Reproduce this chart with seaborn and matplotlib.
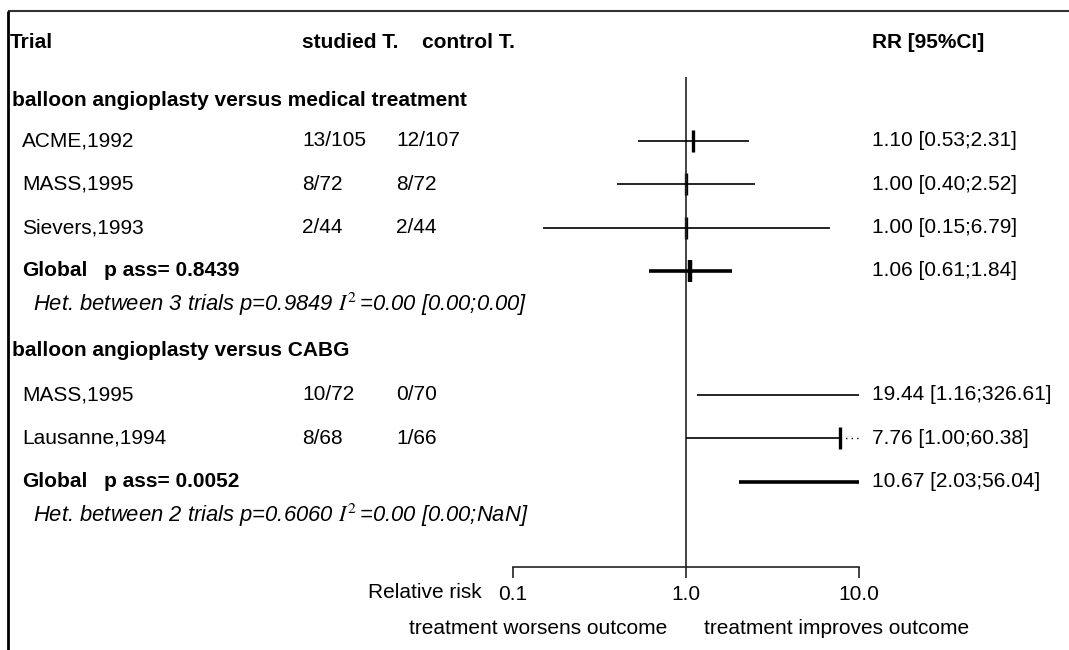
import numpy as np
import pandas as pd
import matplotlib
matplotlib.use("Agg")
import matplotlib.pyplot as plt
import seaborn as sns

# ---- data -------------------------------------------------------------
groups = ["balloon angioplasty versus medical treatment",
          "balloon angioplasty versus CABG"]
trial_group = [0, 0, 0, 1, 1]
trials = ["ACME,1992", "MASS,1995", "Sievers,1993", "MASS,1995", "Lausanne,1994"]
studied = ["13/105", "8/72", "2/44", "10/72", "8/68"]
control = ["12/107", "8/72", "2/44", "0/70", "1/66"]
rr = [1.10, 1.00, 1.00, 19.44, 7.76]
rr_lo = [0.53, 0.40, 0.15, 1.16, 1.00]
rr_hi = [2.31, 2.52, 6.79, 326.61, 60.38]

global_rr = [1.06, 10.67]
global_lo = [0.61, 2.03]
global_hi = [1.84, 56.04]
p_assoc = ["0.8439", "0.0052"]
het_n = [3, 2]
het_p = ["0.9849", "0.6060"]
het_i2 = ["0.00 [0.00;0.00]", "0.00 [0.00;NaN]"]

x_ticks = [0.1, 1.0, 10.0]
x_ticklabels = ["0.1", "1.0", "10.0"]

# ---- style ------------------------------------------------------------
sns.set_theme(style="white")
plt.rcParams["font.family"] = ["Liberation Sans", "DejaVu Sans"]
plt.rcParams["mathtext.fontset"] = "stix"
plt.rcParams["text.color"] = "black"
plt.rcParams["xtick.color"] = "black"
plt.rcParams["axes.labelcolor"] = "black"
FS = 15

W, H = 1069, 650
fig = plt.figure(figsize=(W / 100, H / 100), dpi=100)

# background axes in pixel coordinates for the text table
tax = fig.add_axes([0, 0, 1, 1])
tax.set_xlim(0, W)
tax.set_ylim(H, 0)
tax.axis("off")

# forest axes: log scale, 0.1 .. 10
X0, X1, AXIS_Y = 513, 859, 567
fax = fig.add_axes([X0 / W, (H - AXIS_Y) / H, (X1 - X0) / W, AXIS_Y / H])
fax.set_xscale("log")
fax.patch.set_alpha(0)
for s in ["top", "left", "right"]:
    fax.spines[s].set_visible(False)
fax.spines["bottom"].set_color("#222222")
fax.spines["bottom"].set_linewidth(1.2)

# ---- row layout -------------------------------------------------------
HEADER_Y = 43
STEP = 43.3
rows_y = {}
section_y, global_y, het_y = [], [], []
cursor = 97
for g in range(len(groups)):
    section_y.append(cursor + (3 if g == 0 else 0))
    cursor += 44
    for i, tg in enumerate(trial_group):
        if tg == g:
            rows_y[i] = cursor
            cursor += STEP
    global_y.append(cursor)
    cursor += 34
    het_y.append(cursor)
    cursor += 46

df = pd.DataFrame({"trial": trials, "rr": rr, "lo": rr_lo, "hi": rr_hi,
                   "y": [rows_y[i] for i in range(len(trials))]})
gdf = pd.DataFrame({"rr": global_rr, "lo": global_lo, "hi": global_hi,
                    "y": global_y})

# ---- header -----------------------------------------------------------
bold = dict(fontsize=FS, fontweight="bold", va="center")
tax.text(10, HEADER_Y, "Trial", **bold)
tax.text(302, HEADER_Y, "studied T.", **bold)
tax.text(422, HEADER_Y, "control T.", **bold)
tax.text(872, HEADER_Y, "RR [95%CI]", **bold)

# ---- table text -------------------------------------------------------
norm = dict(fontsize=FS, va="center")
for g, name in enumerate(groups):
    tax.text(12, section_y[g], name, **bold)
    tax.text(22, global_y[g], "Global", **bold)
    tax.text(104, global_y[g], f"p ass= {p_assoc[g]}", **bold)
    tax.text(33, het_y[g],
             f"Het. between {het_n[g]} trials p={het_p[g]} $I^{{2}}\\,$={het_i2[g]}",
             fontsize=15.8, style="italic", va="center")
    tax.text(872, global_y[g],
             f"{global_rr[g]:.2f} [{global_lo[g]:.2f};{global_hi[g]:.2f}]", **norm)

for i, row in df.iterrows():
    tax.text(22, row.y, trials[i], **norm)
    tax.text(302, row.y, studied[i], **norm)
    tax.text(396, row.y, control[i], **norm)
    tax.text(872, row.y, f"{row.rr:.2f} [{row.lo:.2f};{row.hi:.2f}]", **norm)

# ---- forest marks -----------------------------------------------------
XMAX = 10
fax.vlines(1.0, 77, AXIS_Y, color="#222222", lw=1.2)

for _, row in df.iterrows():
    dotted_tail = row.hi > XMAX and row.rr < XMAX
    end = row.rr if dotted_tail else row.hi
    fax.hlines(row.y, row.lo, end, color="black", lw=1.2)
    if dotted_tail:
        fax.hlines(row.y, row.rr, row.hi, color="black", lw=1.0,
                   linestyles=(0, (1, 3)))
fax.hlines(gdf.y, gdf.lo, gdf.hi, color="black", lw=2.6)

sns.scatterplot(data=df, x="rr", y="y", marker="|", s=260, linewidth=2.4,
                color="black", ax=fax, legend=False, clip_on=True)
sns.scatterplot(data=gdf, x="rr", y="y", marker="|", s=260, linewidth=3.2,
                color="black", ax=fax, legend=False, clip_on=True)

fax.set_xlabel("")
fax.set_ylabel("")
fax.set_yticks([])
fax.set_xlim(0.1, XMAX)
fax.set_ylim(AXIS_Y, 0)
fax.set_xticks(x_ticks)
fax.set_xticklabels(x_ticklabels, fontsize=FS)
fax.xaxis.set_minor_locator(matplotlib.ticker.NullLocator())
fax.tick_params(axis="x", direction="out", length=8, width=1.2, pad=5,
                bottom=True, color="#222222", labelcolor="black")

# ---- axis captions ----------------------------------------------------
tax.text(482, 593, "Relative risk", fontsize=FS, ha="right", va="center")
tax.text(667, 628, "treatment worsens outcome", fontsize=FS, ha="right", va="center")
tax.text(704, 628, "treatment improves outcome", fontsize=FS, ha="left", va="center")

# ---- frame ------------------------------------------------------------
tax.plot([8, W], [11, 11], color="#333333", lw=1.5, solid_capstyle="butt")
tax.plot([8, 8], [11, H], color="black", lw=2.0, solid_capstyle="butt")

fig.savefig("out.png", dpi=100)
